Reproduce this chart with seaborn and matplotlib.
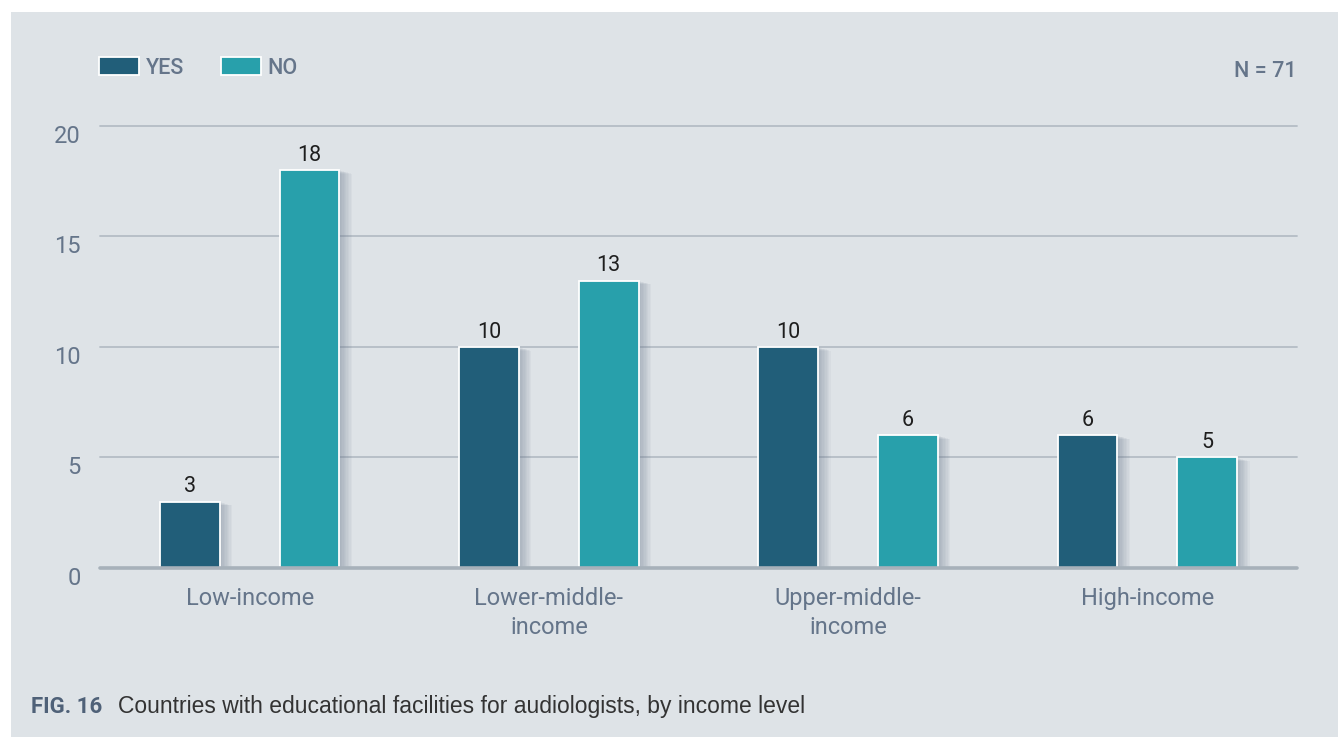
import matplotlib
matplotlib.use("Agg")
import matplotlib.pyplot as plt
import matplotlib.patheffects as pe
from matplotlib.patches import Patch, Rectangle
from matplotlib.transforms import ScaledTranslation
import pandas as pd
import seaborn as sns

# ---- data -------------------------------------------------------------
categories = ["Low-income", "Lower-middle-\nincome", "Upper-middle-\nincome", "High-income"]
yes_counts = [3, 10, 10, 6]
no_counts = [18, 13, 6, 5]
series_names = ["YES", "NO"]
y_ticks = [0, 5, 10, 15, 20]
total_label = "N = 71"
fig_number = "FIG. 16"
caption = "Countries with educational facilities for audiologists, by income level"

# ---- style ------------------------------------------------------------
PANEL = "#dee3e7"
DARK = "#215e79"
TEAL = "#28a0ab"
SLATE = "#65758a"
GRID = "#b4bdc5"
AXIS = "#a7b1ba"
NARROW = ["Roboto", "DejaVu Sans"]
REGULAR = ["Liberation Sans", "DejaVu Sans"]

sns.set_theme(style="white")
plt.rcParams["font.family"] = NARROW

W, H, DPI = 1338, 737, 100
fig = plt.figure(figsize=(W / DPI, H / DPI), dpi=DPI, facecolor="white")

# grey panel behind everything
fig.patches.append(Rectangle((11 / W, 0), 1 - 11 / W, (H - 12) / H,
                             transform=fig.transFigure, facecolor=PANEL,
                             edgecolor="none", zorder=-10))

ax = fig.add_axes([100 / W, (H - 568) / H, (1297 - 100) / W, (568 - 125.7) / H])
ax.set_facecolor("none")

df = pd.DataFrame({
    "category": categories * 2,
    "answer": [series_names[0]] * len(categories) + [series_names[1]] * len(categories),
    "count": yes_counts + no_counts,
})

sns.barplot(data=df, x="category", y="count", hue="answer",
            order=categories, hue_order=series_names,
            palette=[DARK, TEAL], saturation=1, width=0.8, gap=0.5,
            edgecolor="white", linewidth=1.3, legend=False, ax=ax, zorder=3)

# soft shadow to the right of each bar
shadow = [pe.SimplePatchShadow(offset=(k * 1.0, -k * 0.3), shadow_rgbFace="#6d7b90",
                               alpha=0.06) for k in range(1, 10)]
for bar in ax.patches:
    bar.set_path_effects(shadow + [pe.Normal()])

for cont in ax.containers:
    ax.bar_label(cont, fmt="%d", padding=3, fontsize=15.5, color="#1e1e1e",
                 family=NARROW)

ax.set_xlim(-0.5, len(categories) - 0.5)
ax.set_ylim(0, 20)
ax.set_yticks(y_ticks)
ax.set_xlabel("")
ax.set_ylabel("")
for s in ax.spines.values():
    s.set_visible(False)

ax.yaxis.grid(True, color=GRID, linewidth=1.3, zorder=0)
ax.set_axisbelow(True)
for gl in ax.yaxis.get_gridlines():
    gl.set_clip_on(False)
ax.axhline(0, color=AXIS, linewidth=2.6, zorder=5, clip_on=False)

ax.tick_params(axis="both", length=0, labelsize=17, labelcolor=SLATE)
ax.tick_params(axis="y", pad=14)
ax.tick_params(axis="x", pad=14)
for lab in ax.get_xticklabels():
    lab.set_linespacing(1.3)
offset = ScaledTranslation(0, -8 / DPI, fig.dpi_scale_trans)
for lab in ax.get_yticklabels():
    lab.set_transform(lab.get_transform() + offset)

# legend
handles = [Patch(facecolor=c, edgecolor="white", linewidth=1.3) for c in (DARK, TEAL)]
fs_leg = 15.5
px = fs_leg * DPI / 72
leg = ax.legend(handles, series_names, ncol=2, frameon=False,
                loc="upper left", bbox_to_anchor=(99 / W, 1 - 57 / H),
                bbox_transform=fig.transFigure,
                handlelength=40 / px, handleheight=20 / px,
                handletextpad=6.5 / px, columnspacing=37 / px,
                borderpad=0, borderaxespad=0,
                prop={"family": NARROW, "size": fs_leg, "weight": "medium"})
for t in leg.get_texts():
    t.set_color(SLATE)

fig.text(1297 / W, (H - 77) / H, total_label, ha="right", va="baseline",
         fontsize=fs_leg, color=SLATE, fontweight="medium", family=NARROW)

# caption
fig.text(31 / W, (H - 713) / H, fig_number, ha="left", va="baseline",
         fontsize=16, color="#4f6178", fontweight="bold", family=NARROW)
fig.text(118 / W, (H - 713) / H, caption, ha="left", va="baseline",
         fontsize=16.5, color="#333333", family=REGULAR)

fig.savefig("out.png", dpi=DPI, facecolor="white")
